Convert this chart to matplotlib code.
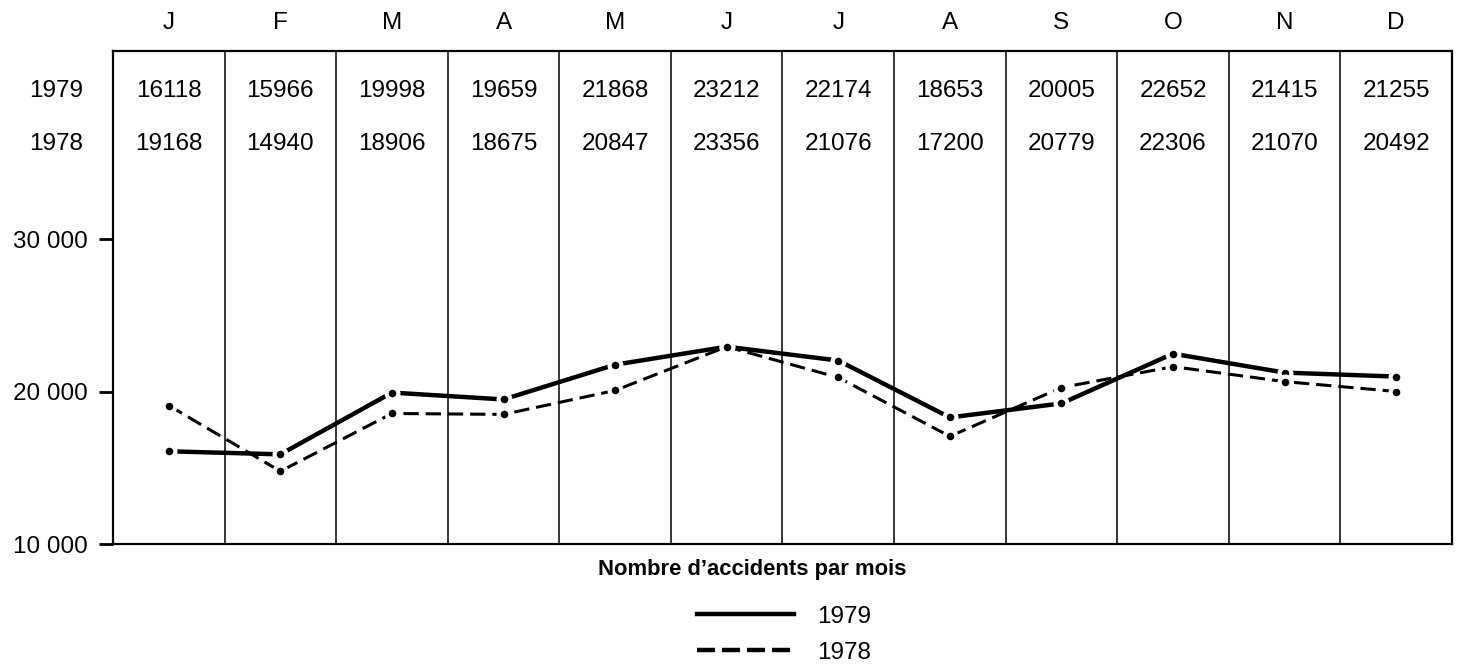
import matplotlib
matplotlib.use("Agg")
import matplotlib.pyplot as plt
from matplotlib.lines import Line2D

plt.rcParams['font.family'] = ['Liberation Sans', 'DejaVu Sans']
plt.rcParams['lines.scale_dashes'] = False

# Mois et valeurs du tableau
mois = ['J', 'F', 'M', 'A', 'M', 'J', 'J', 'A', 'S', 'O', 'N', 'D']
annees = ['1979', '1978']
tab_1979 = [16118, 15966, 19998, 19659, 21868, 23212, 22174, 18653, 20005, 22652, 21415, 21255]
tab_1978 = [19168, 14940, 18906, 18675, 20847, 23356, 21076, 17200, 20779, 22306, 21070, 20492]

# Valeurs (le trace ne suit pas exactement le tableau)
courbe_1979 = [16080, 15880, 19930, 19480, 21760, 22940, 22030, 18300, 19220, 22480, 21240, 20980]
courbe_1978 = [19080, 14770, 18560, 18500, 20070, 22940, 20920, 17060, 20260, 21630, 20650, 20000]

y_ticks = [10000, 20000, 30000]
y_labels = ['10 000', '20 000', '30 000']

fs = 17.5

fig = plt.figure(figsize=(14.6, 6.64), dpi=100, facecolor='w')
ax = fig.add_axes([0.0774, 0.1807, 0.9171, 0.7425])

x = range(len(mois))

# lignes de separation des mois
for i in range(1, len(mois)):
    ax.axvline(i - 0.5, color='k', lw=1.1)

ax.plot(x, courbe_1979, color='k', lw=3.2, marker='o', ms=8.5,
        mec='w', mew=3, mfc='k', solid_capstyle='butt', label='1979')
ax.plot(x, courbe_1978, color='k', lw=2.2, ls=(0, (11, 5)), marker='o', ms=8.5,
        mec='w', mew=3, mfc='k', label='1978')

ax.set_xlim(-0.5, 11.5)
ax.set_ylim(10000, 42330)

ax.set_yticks(y_ticks)
ax.set_yticklabels(y_labels, fontsize=fs)
ax.yaxis.set_tick_params(length=10, width=2, pad=8)

ax.xaxis.tick_top()
ax.set_xticks(list(x))
ax.set_xticklabels(mois, fontsize=fs)
ax.xaxis.set_tick_params(length=0, pad=12)

for spine in ax.spines.values():
    spine.set_linewidth(1.6)

# tableau des valeurs
tr = ax.get_xaxis_transform()
for i in x:
    ax.text(i, 0.919, str(tab_1979[i]), transform=tr, ha='center', va='center', fontsize=fs)
    ax.text(i, 0.811, str(tab_1978[i]), transform=tr, ha='center', va='center', fontsize=fs)
ax.text(-0.0426, 0.919, annees[0], transform=ax.transAxes, ha='center', va='center', fontsize=fs)
ax.text(-0.0426, 0.811, annees[1], transform=ax.transAxes, ha='center', va='center', fontsize=fs)

fig.text(0.515, 0.143, "Nombre d\u2019accidents par mois", ha='center', va='center',
         fontsize=15.8, fontweight='bold')

handles = [Line2D([], [], color='k', lw=3.2),
           Line2D([], [], color='k', lw=3.2, ls=(0, (13, 5)))]
fig.legend(handles, annees, loc='center left', bbox_to_anchor=(0.469, 0.044),
           frameon=False, fontsize=fs, handlelength=4.0, handletextpad=0.95,
           labelspacing=0.58, borderpad=0)

fig.savefig('out.png', dpi=100, facecolor='w')
